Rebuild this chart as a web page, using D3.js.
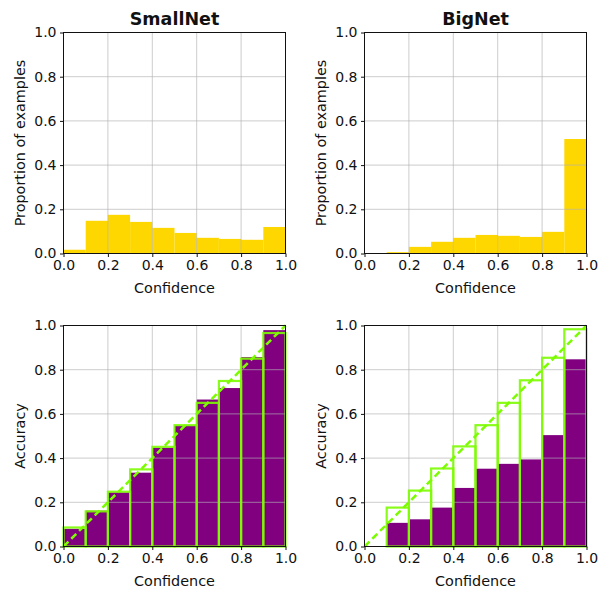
<!DOCTYPE html>
<html>
<head>
<meta charset="utf-8">
<script src="https://cdn.jsdelivr.net/npm/d3@7"></script>
<style>
  body { margin: 0; background: #fff; }
  svg text { font-family: "DejaVu Sans", sans-serif; fill: #111; }
</style>
</head>
<body>
<script>
// bin left edges, width 0.1
const binEdges = [0.0, 0.1, 0.2, 0.3, 0.4, 0.5, 0.6, 0.7, 0.8, 0.9];
const tickValues = [0.0, 0.2, 0.4, 0.6, 0.8, 1.0];

// proportion of examples per confidence bin
const smallProp = [0.017, 0.148, 0.175, 0.143, 0.116, 0.093, 0.071, 0.066, 0.062, 0.120];
const bigProp = [0.0, 0.006, 0.030, 0.053, 0.071, 0.084, 0.080, 0.075, 0.098, 0.518];

// accuracy per bin (purple) and mean confidence per bin (green outline)
const smallAcc = [0.080, 0.162, 0.245, 0.334, 0.447, 0.547, 0.665, 0.717, 0.857, 0.979];
const smallConf = [0.086, 0.159, 0.248, 0.349, 0.451, 0.549, 0.650, 0.749, 0.850, 0.966];
const bigAcc = [0.0, 0.107, 0.123, 0.176, 0.265, 0.352, 0.374, 0.394, 0.504, 0.847];
const bigConf = [0.0, 0.176, 0.253, 0.353, 0.453, 0.549, 0.650, 0.752, 0.854, 0.983];

const width = 599, height = 589;
const pw = 222, ph = 221; // plot area size

const svg = d3.select("body").append("svg")
    .attr("width", width)
    .attr("height", height);

const x = d3.scaleLinear().domain([0, 1]).range([0, pw]);
const y = d3.scaleLinear().domain([0, 1]).range([ph, 0]);

function panel(left, top, opts) {
    const g = svg.append("g").attr("transform", `translate(${left},${top})`);

    // filled bars
    g.selectAll(".bar").data(opts.values).enter().append("rect")
        .attr("x", (d, i) => x(binEdges[i]))
        .attr("width", x(0.1) - x(0))
        .attr("y", d => y(d))
        .attr("height", d => y(0) - y(d))
        .attr("fill", opts.color);

    // grid sits over the bars, as in the original
    g.selectAll(".vgrid").data(tickValues).enter().append("line")
        .attr("x1", d => x(d)).attr("x2", d => x(d))
        .attr("y1", 0).attr("y2", ph)
        .attr("stroke", "#b0b0b0").attr("stroke-opacity", 0.65).attr("stroke-width", 1);
    g.selectAll(".hgrid").data(tickValues).enter().append("line")
        .attr("y1", d => y(d)).attr("y2", d => y(d))
        .attr("x1", 0).attr("x2", pw)
        .attr("stroke", "#b0b0b0").attr("stroke-opacity", 0.65).attr("stroke-width", 1);

    if (opts.conf) {
        // gap outline boxes at mean confidence
        g.selectAll(".gap").data(opts.conf).enter().append("rect")
            .attr("x", (d, i) => x(binEdges[i]))
            .attr("width", x(0.1) - x(0))
            .attr("y", d => y(d))
            .attr("height", d => y(0) - y(d))
            .attr("fill", "none")
            .attr("stroke", "#7cfc00")
            .attr("stroke-opacity", 0.9)
            .attr("stroke-width", 2.2);

        // perfect calibration line
        g.append("line")
            .attr("x1", x(0)).attr("y1", y(0))
            .attr("x2", x(1)).attr("y2", y(1))
            .attr("stroke", "#7cfc00")
            .attr("stroke-width", 2.5)
            .attr("stroke-dasharray", "7,4");
    }

    // axes
    const xAxis = d3.axisBottom(x).tickValues(tickValues).tickFormat(d3.format(".1f")).tickSize(3.5).tickPadding(3.5);
    const yAxis = d3.axisLeft(y).tickValues(tickValues).tickFormat(d3.format(".1f")).tickSize(3.5).tickPadding(3.5);

    const gx = g.append("g").attr("transform", `translate(0,${ph})`).call(xAxis);
    const gy = g.append("g").call(yAxis);
    [gx, gy].forEach(a => {
        a.select(".domain").remove();
        a.selectAll("text").style("font-size", "14px").attr("fill", "#111");
        a.selectAll("line").attr("stroke", "#111");
    });

    // box frame
    g.append("rect")
        .attr("width", pw).attr("height", ph)
        .attr("fill", "none").attr("stroke", "#111").attr("stroke-width", 1);

    // labels
    g.append("text")
        .attr("x", pw / 2).attr("y", ph + 39.5)
        .attr("text-anchor", "middle")
        .style("font-size", "14.4px")
        .text("Confidence");
    g.append("text")
        .attr("transform", `translate(-39,${ph / 2}) rotate(-90)`)
        .attr("text-anchor", "middle")
        .style("font-size", "14.4px")
        .text(opts.ylabel);

    if (opts.title) {
        g.append("text")
            .attr("x", pw / 2).attr("y", -8)
            .attr("text-anchor", "middle")
            .style("font-size", "17.5px")
            .style("font-weight", "bold")
            .text(opts.title);
    }
}

panel(63.5, 32.5, { values: smallProp, color: "#ffd700", ylabel: "Proportion of examples", title: "SmallNet" });
panel(364.5, 32.5, { values: bigProp, color: "#ffd700", ylabel: "Proportion of examples", title: "BigNet" });
panel(63.5, 325.5, { values: smallAcc, conf: smallConf, color: "#800080", ylabel: "Accuracy" });
panel(364.5, 325.5, { values: bigAcc, conf: bigConf, color: "#800080", ylabel: "Accuracy" });
</script>
</body>
</html>
